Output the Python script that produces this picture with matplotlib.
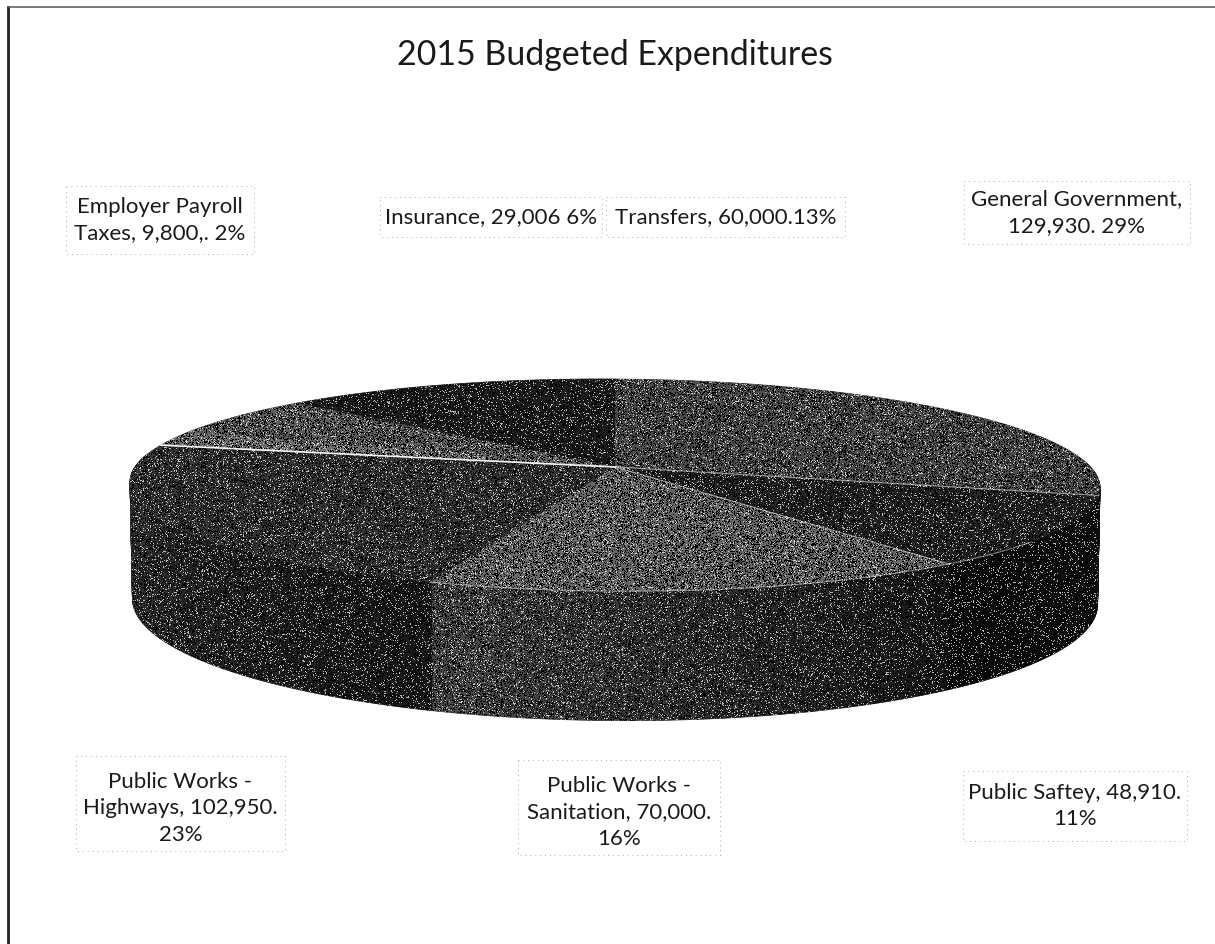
import numpy as np
import matplotlib
matplotlib.use("Agg")
import matplotlib.pyplot as plt
from matplotlib.patches import Polygon, Rectangle
from matplotlib.path import Path

categories = ["General Government", "Public Saftey", "Public Works - Sanitation",
              "Public Works - Highways", "Employer Payroll Taxes", "Insurance", "Transfers"]
values = [129930, 48910, 70000, 102950, 9800, 29006, 60000]

title = "2015 Budgeted Expenditures"
label_texts = ["General Government,\n129,930. 29%", "Public Saftey, 48,910.\n11%",
               "Public Works -\nSanitation, 70,000.\n16%", "Public Works -\nHighways, 102,950.\n23%",
               "Employer Payroll\nTaxes, 9,800,. 2%", "Insurance, 29,006 6%", "Transfers, 60,000.13%"]
# label boxes: left, top, right, bottom
label_boxes = [(964, 182, 1190, 245), (963, 772, 1187, 842), (518, 761, 720, 856), (76, 757, 285, 852),
               (66, 187, 254, 255), (380, 198, 602, 238), (606, 198, 845, 238)]

top_tones = [0.30, 0.15, 0.40, 0.21, 0.42, 0.36, 0.12]
side_tones = [(0.06, 0.06), (0.06, 0.04), (0.09, 0.29), (0.10, 0.22), (0.2, 0.2), (0.2, 0.2), (0.2, 0.2)]
# line strength at the leading edge of each slice
edge_alpha = [0.1, 0.55, 0.5, 0.1, 0.95, 0.15, 0.1]

cx, cy = 615, 468
R, A, k = 478, 103, 0.17
tilt = 0.006


def top_xy(deg):
    a = np.radians(deg)
    u, v = np.sin(a), np.cos(a)
    x = R * u / (1 + k * v)
    y = A * v / (1 + k * v)
    return cx + x, cy - y + tilt * x


def bottom_xy(deg):
    a = np.radians(deg)
    v = np.cos(a)
    x, y = top_xy(deg)
    return cx + (x - cx) * 0.995, y + 114 / (1 + 0.12 * v)


def gray(t):
    return (t, t, t)


fig = plt.figure(figsize=(12.15, 9.45), dpi=100)
ax = fig.add_axes([0, 0, 1, 1])
ax.set_xlim(0, 1215)
ax.set_ylim(945, 0)
ax.axis("off")

shares = np.array(values) / sum(values)
ends = np.cumsum(shares) * 360
starts = ends - shares * 360

# side wall first, in thin strips so it can shade across each slice
for s, e, (t0, t1) in zip(starts, ends, side_tones):
    lo, hi = max(s, 85), min(e, 275)
    if lo >= hi:
        continue
    steps = np.linspace(lo, hi, int(hi - lo) * 2 + 2)
    for a0, a1 in zip(steps[:-1], steps[1:]):
        f = ((a0 + a1) / 2 - s) / (e - s)
        xt, yt = top_xy(np.array([a0, a1]))
        xb, yb = bottom_xy(np.array([a1, a0]))
        ax.add_patch(Polygon(np.c_[np.r_[xt, xb], np.r_[yt, yb]], fc=gray(t0 + (t1 - t0) * f),
                             ec=gray(t0 + (t1 - t0) * f), lw=0.5, zorder=2))

# top face
for s, e, t in zip(starts, ends, top_tones):
    arc = np.linspace(s, e, 80)
    xs, ys = top_xy(arc)
    ax.add_patch(Polygon(np.c_[np.r_[cx, xs], np.r_[cy, ys]], fc=gray(t), ec=gray(t), lw=0.5, zorder=3))

# grain over the pie, clipped to its outline
xa, ya = top_xy(np.linspace(-100, 100, 300))
xc, yc = bottom_xy(np.linspace(100, 260, 300))
outline = Path(np.c_[np.r_[xa, xc], np.r_[ya, yc]])
rng = np.random.default_rng(7)
noise = rng.random((945, 1215))
grain = np.zeros((945, 1215, 4))
grain[noise < 0.30] = (0, 0, 0, 1)
grain[noise > 0.91] = (1, 1, 1, 0.7)
img = ax.imshow(grain, extent=(0, 1215, 945, 0), interpolation="nearest", zorder=4, aspect="auto")
img.set_clip_path(outline, ax.transData)
ax.set_xlim(0, 1215)
ax.set_ylim(945, 0)

# slice edges stay visible through the grain
for s, al in zip(starts, edge_alpha):
    xs, ys = top_xy(np.array([s]))
    ax.plot([cx, xs[0]], [cy, ys[0]], color="white", alpha=al, lw=1.2 if al > 0.9 else 0.8, zorder=5)
xs, ys = top_xy(np.linspace(starts[2] - 14, ends[2], 120))
ax.plot(xs, ys, color="white", alpha=0.45, lw=0.8, zorder=5)

ax.text(615, 55, title, ha="center", va="center", fontsize=24.4, family="Lato", color="#1a1a1a")

for txt, (l, t, r, b) in zip(label_texts, label_boxes):
    ax.add_patch(Rectangle((l, t), r - l, b - t, fc="none", ec="#aaaaaa", lw=0.7, ls=(0, (1, 4)), zorder=6))
    off = 4 if txt.count("\n") == 2 else -1
    ax.text((l + r) / 2, (t + b) / 2 + off, txt, ha="center", va="center", fontsize=16, family="Lato",
            color="#1a1a1a", linespacing=1.42, zorder=7)

# page frame along the left and top
ax.plot([8, 8], [945, 8], color="#222222", lw=2, zorder=8)
ax.plot([8, 1215], [8, 8], color="#555555", lw=1.1, zorder=8)

fig.savefig("out.png", dpi=100)
